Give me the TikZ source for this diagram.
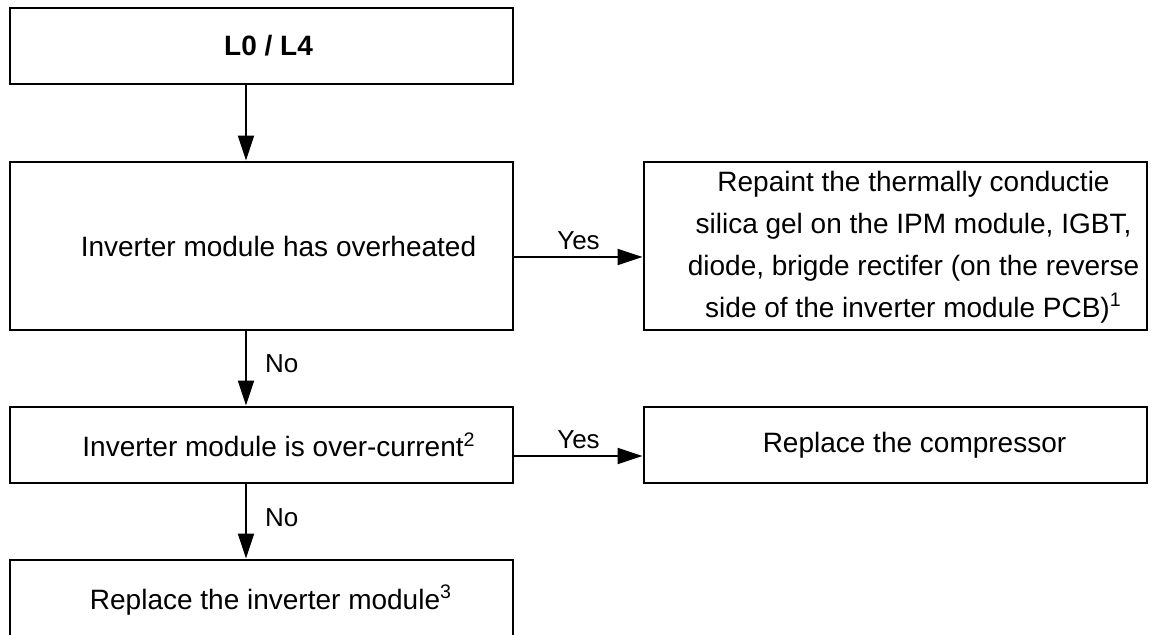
\documentclass[tikz,border=0pt]{standalone}
\usepackage{fontspec}
\setmainfont{Liberation Sans}
\usetikzlibrary{arrows.meta,positioning}

\begin{document}
\begin{tikzpicture}[
  x=0.5pt, y=-0.5pt,
  font=\fontsize{14}{21}\selectfont,
  box/.style={rectangle, draw=black, line width=1.4pt,
              minimum width=251.5pt, minimum height=38pt, inner sep=3pt,
              execute at begin node=\hspace*{#1}},
  box/.default=17pt,
  lbl/.style={font=\fontsize{13}{16}\selectfont, inner sep=3pt},
  arr/.style={-{Triangle[length=12.5pt,width=8pt]}, line width=1pt},
]
\useasboundingbox (0,0) rectangle (1155,635);
\clip (0,0) rectangle (1155,635);

\node[box=7pt, font=\fontsize{14}{21}\selectfont\bfseries] (start) at (261.5,46) {L0 / L4};
\node[box, minimum height=84pt] (heat) at (261.5,246) {Inverter module has overheated};
\node[box=18pt, minimum height=84pt, inner ysep=0pt] (paint) at (895.5,246)
  {\begin{tabular}{@{}c@{}}Repaint the thermally conductie\\
   silica gel on the IPM module, IGBT,\\
   diode, brigde rectifer (on the reverse\\
   side of the inverter module PCB)\textsuperscript{1}\end{tabular}};
\node[box=17.5pt] (amps) at (261.5,445) {Inverter module is over-current\textsuperscript{2}};
\node[box=19pt] (comp) at (895.5,445) {Replace the compressor};
\node[box=9.5pt, minimum height=40pt] (module) at (261.5,600) {Replace the inverter module\textsuperscript{3}};

\draw[arr] ([xshift=-7.75pt]start.south) -- ([xshift=-7.75pt]heat.north);
\draw[arr] ([yshift=-5.5pt]heat.east) -- node[lbl, above] {Yes} ([yshift=-5.5pt]paint.west);
\draw[arr] ([xshift=-7.75pt]heat.south) -- node[lbl, right=6pt, pos=0.43] {No} ([xshift=-7.75pt]amps.north);
\draw[arr] ([yshift=-5.5pt]amps.east) -- node[lbl, above] {Yes} ([yshift=-5.5pt]comp.west);
\draw[arr] ([xshift=-7.75pt]amps.south) -- node[lbl, right=6pt, pos=0.45] {No} ([xshift=-7.75pt]module.north);

\end{tikzpicture}
\end{document}
